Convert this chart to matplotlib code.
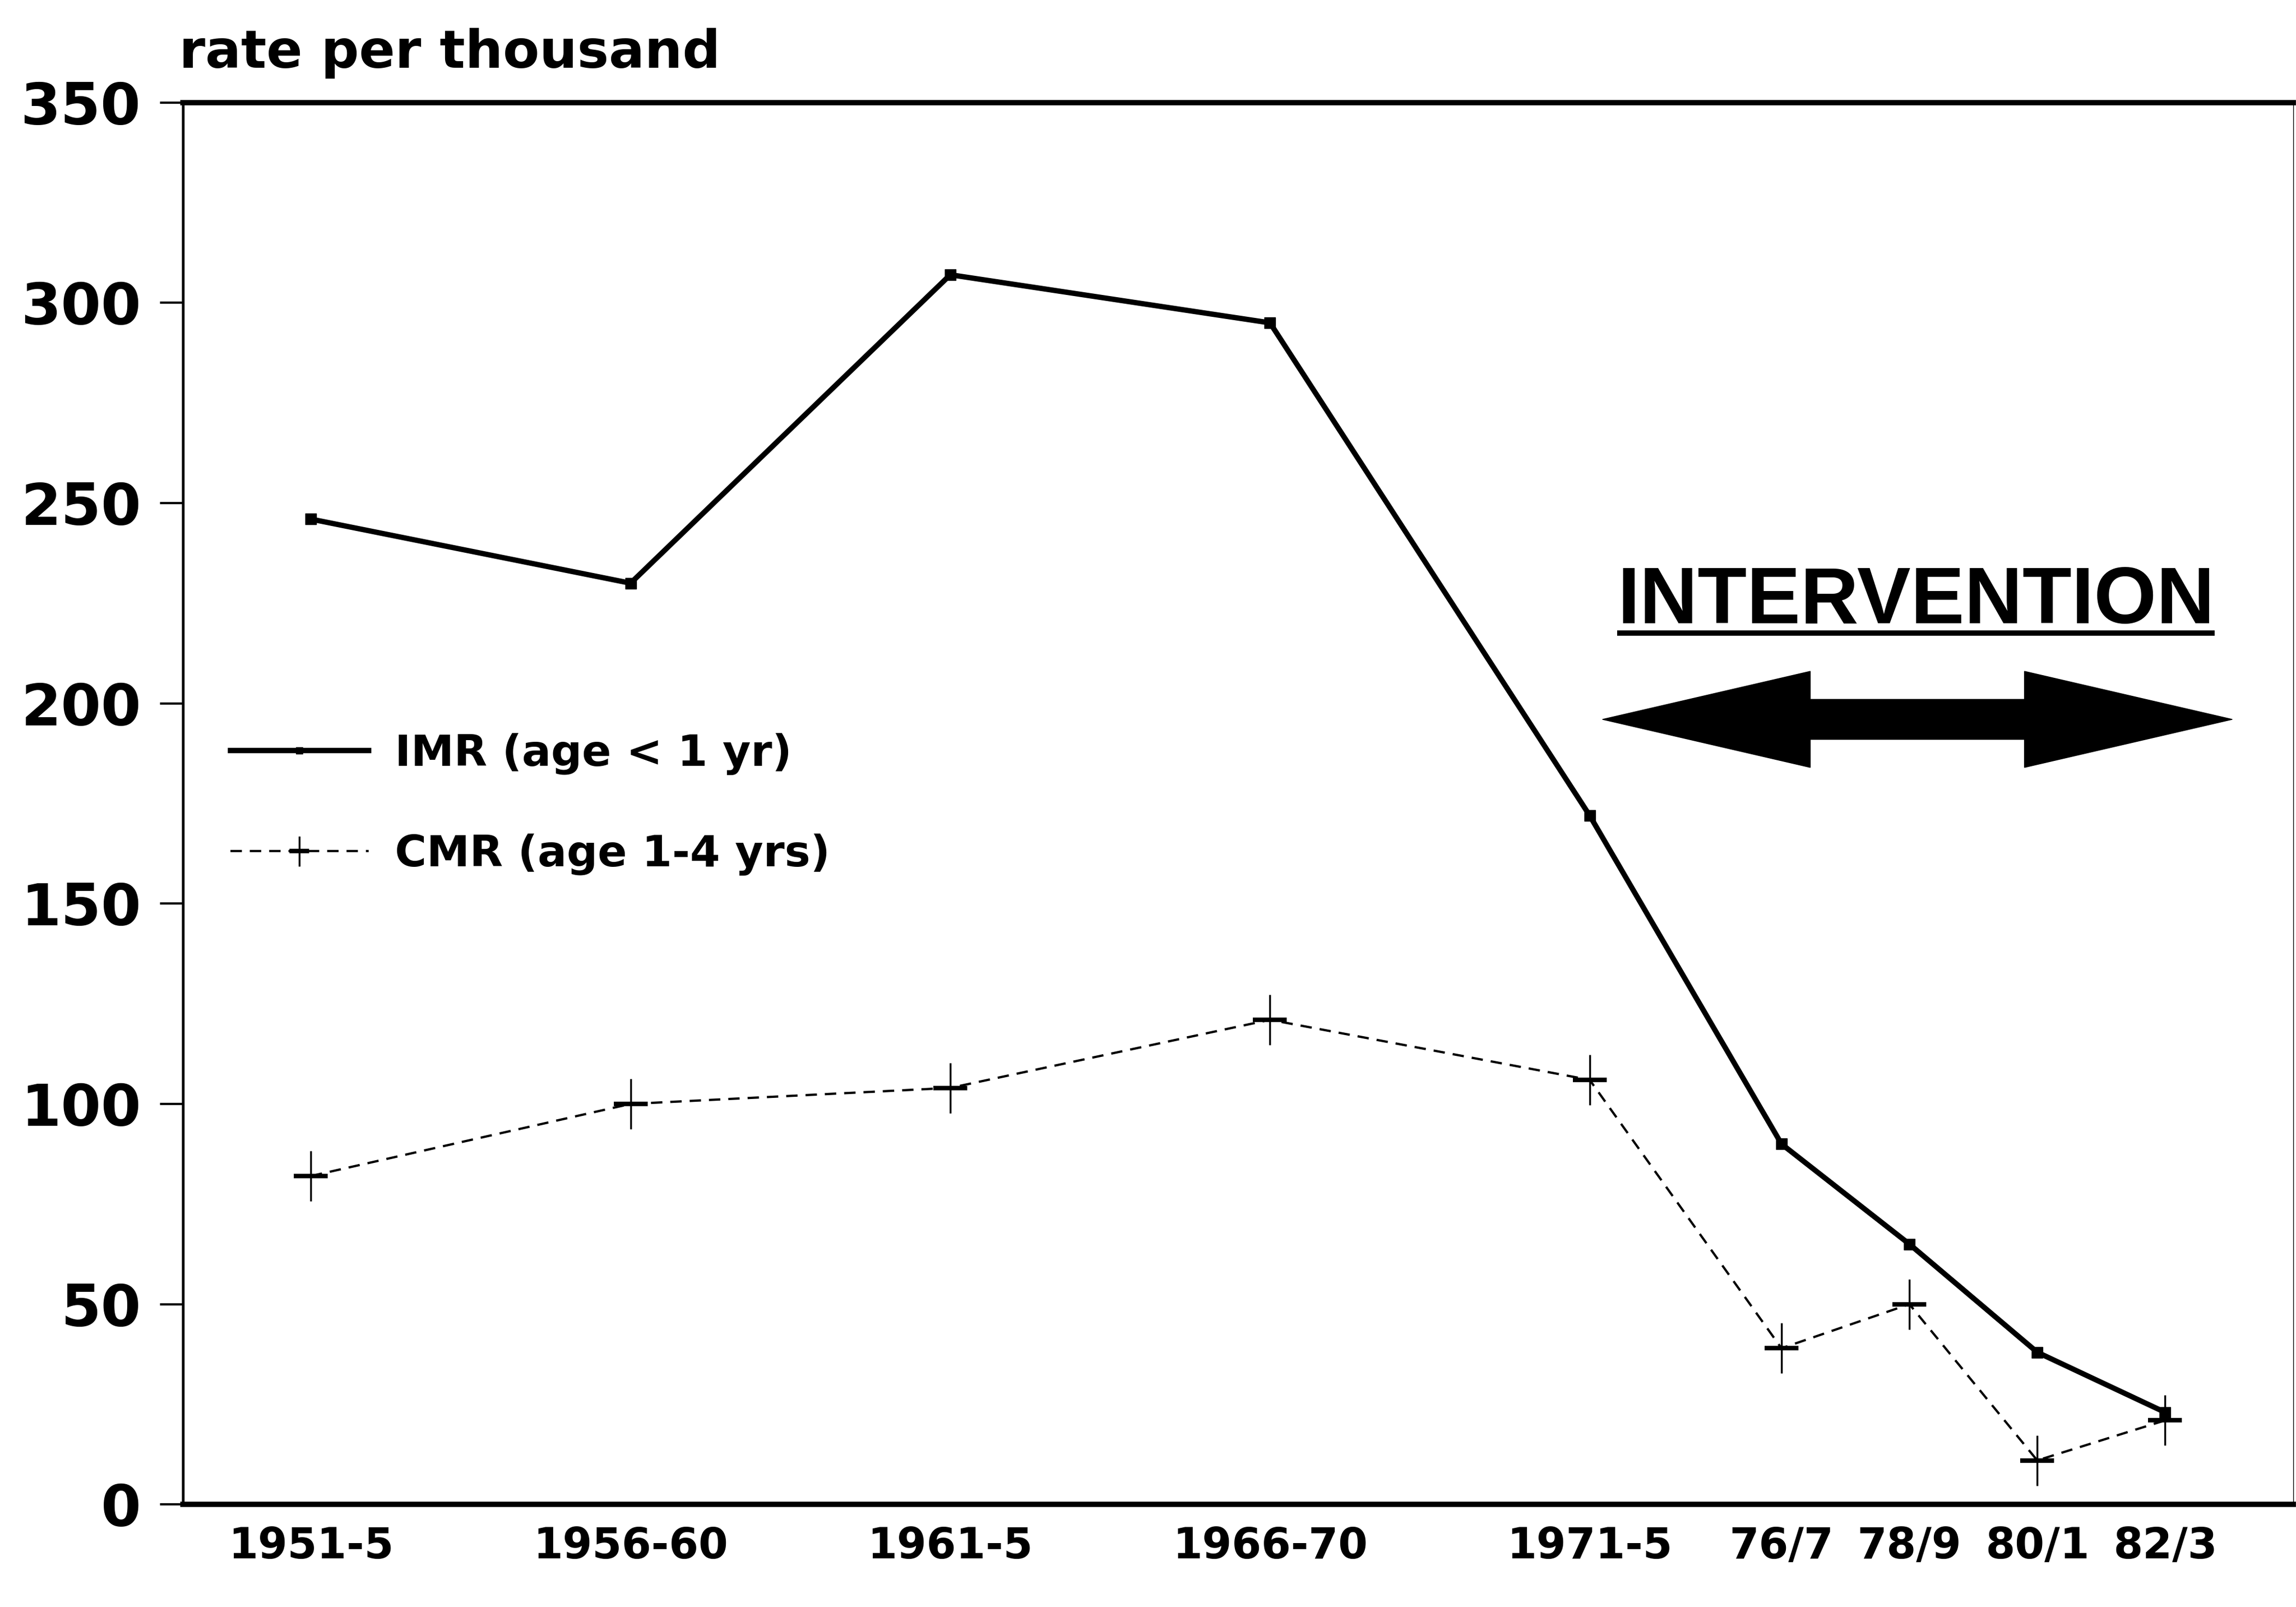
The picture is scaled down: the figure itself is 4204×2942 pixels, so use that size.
import matplotlib
matplotlib.use("Agg")
import matplotlib.pyplot as plt
from matplotlib.patches import Polygon

# Data: periods plotted at their mid year
periods = ["1951-5", "1956-60", "1961-5", "1966-70", "1971-5", "76/7", "78/9", "80/1", "82/3"]
mid_year = [1953, 1958, 1963, 1968, 1973, 1976, 1978, 1980, 1982]
imr = [246, 230, 307, 295, 172, 90, 65, 38, 23]   # infant mortality, age < 1 yr
cmr = [82, 100, 104, 121, 106, 39, 50, 11, 21]    # child mortality, age 1-4 yrs
y_ticks = [0, 50, 100, 150, 200, 250, 300, 350]

font = "DejaVu Sans"

fig = plt.figure(figsize=(42.04, 29.42), dpi=100)
ax = fig.add_axes([0.0797, 0.0638, 0.919, 0.8724])

# IMR solid line with small squares
imr_line, = ax.plot(mid_year, imr, color="black", lw=7, marker="s", ms=14,
                    solid_joinstyle="miter")

# CMR dashed line with plus marks (tall thin vertical, short thick horizontal)
cmr_line, = ax.plot(mid_year, cmr, color="black", lw=3, dashes=(5, 3.5),
                    marker="|", ms=66, mew=2.5)
cmr_bar, = ax.plot(mid_year, cmr, color="black", ls="none", marker="_", ms=44, mew=6)

ax.set_xlim(1951, 1984)
ax.set_ylim(0, 350)
ax.set_yticks(y_ticks)
ax.set_yticklabels([str(v) for v in y_ticks], fontsize=76, fontweight="bold", family=font)
ax.set_xticks(mid_year)
ax.set_xticklabels(periods, fontsize=56, fontweight="bold", family=font)
ax.tick_params(axis="y", direction="out", length=30, width=3, pad=25)
ax.tick_params(axis="x", length=0, pad=28)

ax.spines["top"].set_linewidth(7)
ax.spines["bottom"].set_linewidth(7)
ax.spines["left"].set_linewidth(3.5)
ax.spines["right"].set_linewidth(1)

fig.text(0.078, 0.958, "rate per thousand", fontsize=70, fontweight="bold",
         family=font, va="baseline", ha="left")

leg = ax.legend([imr_line, (cmr_line, cmr_bar)],
                ["IMR (age < 1 yr)", "CMR (age 1-4 yrs)"],
                loc="upper left", bbox_to_anchor=(0.004, 0.578), frameon=False,
                prop={"family": font, "weight": "bold", "size": 57},
                handlelength=3.2, handletextpad=0.6, labelspacing=1.35,
                markerscale=0.6)

# INTERVENTION label with underline
txt = ax.text(1978.1, 220, "INTERVENTION", fontsize=106, fontweight="bold",
              family="Liberation Sans", ha="center", va="baseline")

# double-headed block arrow
x_left, x_right, y_mid = 1973.2, 1983.05, 196
head_len, head_half, shaft_half = 3.25, 12, 5
arrow_pts = [
    (x_left, y_mid),
    (x_left + head_len, y_mid + head_half),
    (x_left + head_len, y_mid + shaft_half),
    (x_right - head_len, y_mid + shaft_half),
    (x_right - head_len, y_mid + head_half),
    (x_right, y_mid),
    (x_right - head_len, y_mid - head_half),
    (x_right - head_len, y_mid - shaft_half),
    (x_left + head_len, y_mid - shaft_half),
    (x_left + head_len, y_mid - head_half),
]
ax.add_patch(Polygon(arrow_pts, closed=True, color="black"))

fig.canvas.draw()
bb = txt.get_window_extent(renderer=fig.canvas.get_renderer())
inv = ax.transData.inverted()
ux0 = inv.transform((bb.x0, 0))[0]
ux1 = inv.transform((bb.x1, 0))[0]
ax.plot([ux0, ux1], [217.5, 217.5], color="black", lw=7, solid_capstyle="butt")

fig.savefig("out.png", dpi=100, facecolor="white")
